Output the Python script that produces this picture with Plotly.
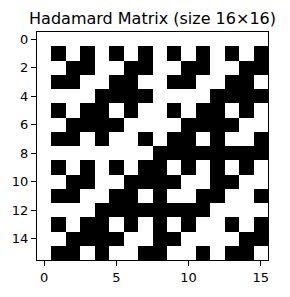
import plotly.graph_objects as go

cols = list(range(16))
rows = list(range(16))
H = [
    [1, 1, 1, 1, 1, 1, 1, 1, 1, 1, 1, 1, 1, 1, 1, 1],
    [1, -1, 1, -1, 1, -1, 1, -1, 1, -1, 1, -1, 1, -1, 1, -1],
    [1, 1, -1, -1, 1, 1, -1, -1, 1, 1, -1, -1, 1, 1, -1, -1],
    [1, -1, -1, 1, 1, -1, -1, 1, 1, -1, -1, 1, 1, -1, -1, 1],
    [1, 1, 1, 1, -1, -1, -1, -1, 1, 1, 1, 1, -1, -1, -1, -1],
    [1, -1, 1, -1, -1, 1, -1, 1, 1, -1, 1, -1, -1, 1, -1, 1],
    [1, 1, -1, -1, -1, -1, 1, 1, 1, 1, -1, -1, -1, -1, 1, 1],
    [1, -1, -1, 1, -1, 1, 1, -1, 1, -1, -1, 1, -1, 1, 1, -1],
    [1, 1, 1, 1, 1, 1, 1, 1, -1, -1, -1, -1, -1, -1, -1, -1],
    [1, -1, 1, -1, 1, -1, 1, -1, -1, 1, -1, 1, -1, 1, -1, 1],
    [1, 1, -1, -1, 1, 1, -1, -1, -1, -1, 1, 1, -1, -1, 1, 1],
    [1, -1, -1, 1, 1, -1, -1, 1, -1, 1, 1, -1, -1, 1, 1, -1],
    [1, 1, 1, 1, -1, -1, -1, -1, -1, -1, -1, -1, 1, 1, 1, 1],
    [1, -1, 1, -1, -1, 1, -1, 1, -1, 1, -1, 1, 1, -1, 1, -1],
    [1, 1, -1, -1, -1, -1, 1, 1, -1, -1, 1, 1, 1, 1, -1, -1],
    [1, -1, -1, 1, -1, 1, 1, -1, -1, 1, 1, -1, 1, -1, -1, 1],
]
x_ticks = [0, 5, 10, 15]
y_ticks = [0, 2, 4, 6, 8, 10, 12, 14]
title = "Hadamard Matrix (size 16×16)"

fig = go.Figure(go.Heatmap(
    z=H, x=cols, y=rows,
    colorscale=[[0, "black"], [1, "white"]],
    zmin=-1, zmax=1, showscale=False, hoverinfo="skip",
))

axis_common = dict(
    showline=True, linecolor="black", linewidth=1, mirror=True,
    ticks="outside", ticklen=5, tickwidth=1, tickcolor="black",
    showgrid=False, zeroline=False,
    tickfont=dict(family="DejaVu Sans", size=13, color="black"),
)

fig.update_layout(
    width=290, height=297,
    margin=dict(l=37, r=22, t=32, b=34),
    paper_bgcolor="white", plot_bgcolor="white",
    title=dict(text=title, x=0.526, xanchor="center", y=1 - 18 / 297,
               yanchor="middle", yref="container",
               font=dict(family="DejaVu Sans", size=16, color="black")),
    xaxis=dict(range=[-0.5, 15.5], tickvals=x_ticks, constrain="domain", **axis_common),
    yaxis=dict(range=[15.5, -0.5], tickvals=y_ticks, **axis_common),
)

fig.write_html("out.html")
